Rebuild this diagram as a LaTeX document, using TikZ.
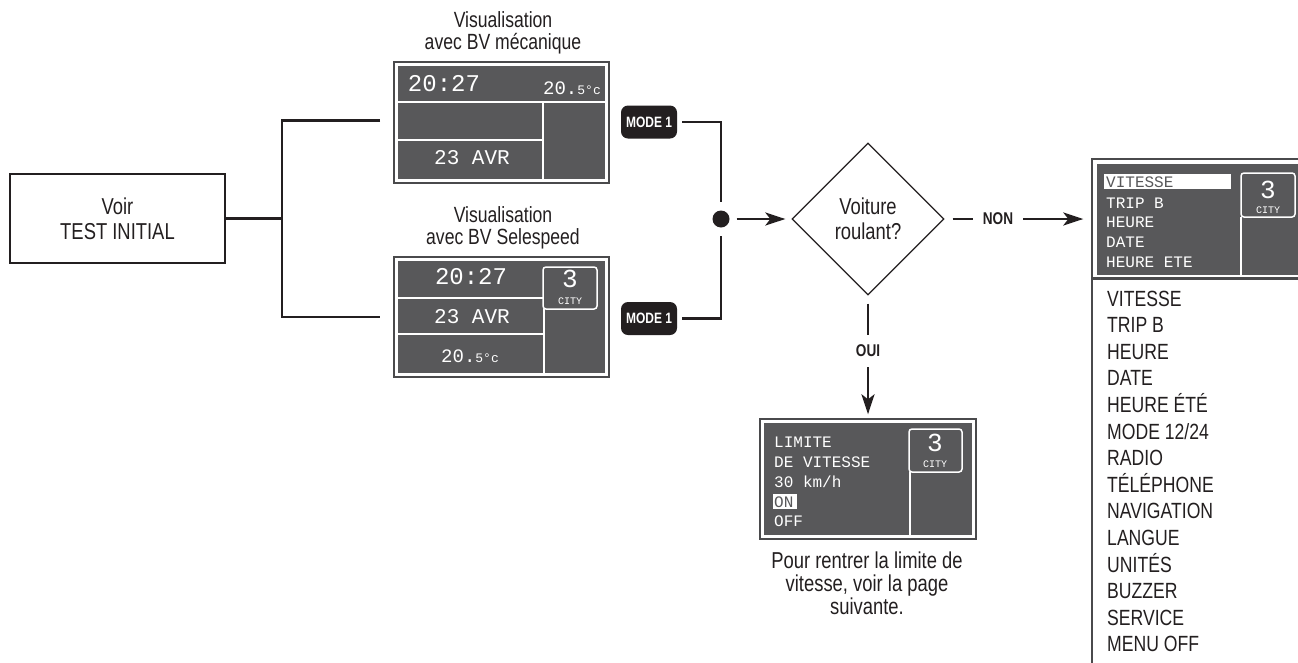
\documentclass[tikz,border=0pt]{standalone}
\usepackage{fontspec}
\setmainfont{Liberation Sans}[FakeStretch=0.8]
\newfontfamily\lcdfont{Liberation Mono}
\usetikzlibrary{arrows.meta,shapes.geometric}
\definecolor{ink}{HTML}{231F20}
\definecolor{scr}{HTML}{58585A}
\definecolor{frm}{HTML}{4A4A4C}
\tikzset{
 conn/.style={draw=ink, line width=2.6pt},
 arr/.style={conn, -{Stealth[length=20pt,width=13pt,inset=5pt]}},
 txt/.style={text=ink, align=center, inner sep=0pt, font=\fontsize{22}{22.5}\selectfont},
 lbl/.style={text=ink, inner sep=0pt, font=\bfseries\fontsize{17}{17}\selectfont},
 badge/.style={fill=ink, rounded corners=7pt, text=white, font=\bfseries\fontsize{15}{15}\selectfont, minimum width=56pt, minimum height=33pt, inner sep=0pt},
 screen/.style={draw=frm, line width=1.4pt, fill=white, inner sep=0pt},
 lcdline/.style={draw=white, line width=1.5pt},
 citybox/.style={draw=white, line width=1.5pt, fill=scr, rounded corners=3pt},
 lcd/.style={text=white, inner sep=0pt, font=\lcdfont\fontsize{#1}{#1}\selectfont},
 lcd/.default=16,
 item/.style={text=ink, inner sep=0pt, anchor=base west, font=\fontsize{22}{22}\selectfont},
}
\begin{document}
\begin{tikzpicture}[x=1pt,y=-1pt]
\clip (0,0) rectangle (1298,662);
\fill[white] (0,0) rectangle (1298,662);

% start box
\node[draw=ink, line width=1.3pt, minimum width=215pt, minimum height=89pt, txt, font=\fontsize{23}{25}\selectfont] (start) at (117.5,218.5) {Voir\\TEST INITIAL};
\coordinate (jn) at (282,218.5);
\coordinate (ja) at (380,120.5);
\coordinate (jb) at (380,317);
\draw[conn] (start.east) -- (jn);
\draw[conn] (ja) -| (jn) |- (jb);

% titles
\node[txt] (tA) at (503,33) {Visualisation\\avec BV mécanique};
\node[txt] (tB) at (503,228) {Visualisation\\avec BV Selespeed};

% screen A
\node[screen, minimum width=215pt, minimum height=121pt] (scrA) at (501.5,122.5) {};
\fill[scr] (398,66) rectangle (605,179);
\draw[lcdline] (398,102) -- (605,102) (543,102) -- (543,179) (398,140) -- (543,140);
\node[lcd=24] (a1) at (444,84) {20:27};
\node[lcd=19, anchor=base east] (a2) at (601,94) {20.{\fontsize{13}{13}\selectfont 5°c}};
\node[lcd=21] (a3) at (472,158) {23 AVR};

% screen B
\node[screen, minimum width=215pt, minimum height=120pt] (scrB) at (501.5,317) {};
\fill[scr] (398,261) rectangle (605,373);
\draw[citybox] (543,267) rectangle (597,309);
\draw[lcdline] (544,309) -- (544,373) (398,298) -- (543,298) (398,334) -- (544,334);
\node[lcd=24] (b1) at (471,277) {20:27};
\node[lcd=21] (b2) at (472,317) {23 AVR};
\node[lcd=19, anchor=base] (b3) at (470,362) {20.{\fontsize{13}{13}\selectfont 5°c}};
\node[lcd=26] (b4) at (570,279) {3};
\node[lcd=10] (b5) at (570,301) {CITY};

% badges and junction
\node[badge] (mA) at (649,122) {MODE 1};
\node[badge] (mB) at (649,318.5) {MODE 1};
\node[circle, fill=ink, minimum size=17pt, inner sep=0pt] (dot) at (721,219) {};
\draw[conn, shorten <=5pt, shorten >=8pt] (mA.east) -| (dot.north);
\draw[conn, shorten <=5pt, shorten >=8pt] (mB.east) -| (dot.south);

% decision
\node[diamond, draw=ink, line width=1.3pt, minimum width=152pt, minimum height=152pt, aspect=1, txt, font=\fontsize{23}{25}\selectfont] (dia) at (868,219) {Voiture\\roulant?};
\draw[arr, shorten <=7pt, shorten >=6pt] (dot.east) -- (dia.west);

% right screen
\node[screen, minimum width=228pt, minimum height=119pt] (scrR) at (1206,218.5) {};
\fill[scr] (1097,164) rectangle (1320,275);
\fill[white] (1104,174) rectangle (1231,189);
\draw[citybox] (1241,173) rectangle (1295,217);
\draw[lcdline] (1241,217) -- (1241,275);
\node[lcd=16, anchor=west, text=scr] (r1) at (1106,182) {VITESSE};
\node[lcd=16, anchor=west] (r2) at (1106,203) {TRIP B};
\node[lcd=16, anchor=west] (r3) at (1106,222.5) {HEURE};
\node[lcd=16, anchor=west] (r4) at (1106,242.5) {DATE};
\node[lcd=16, anchor=west] (r5) at (1106,262.5) {HEURE ETE};
\node[lcd=26] (r6) at (1268,190) {3};
\node[lcd=10] (r7) at (1268,210) {CITY};
\draw[draw=frm, line width=1.4pt] (1092,279) rectangle (1320,700);
\foreach \t [count=\i from 0] in {VITESSE,TRIP B,HEURE,DATE,HEURE ÉTÉ,MODE 12/24,RADIO,TÉLÉPHONE,NAVIGATION,LANGUE,UNITÉS,BUZZER,SERVICE,MENU OFF}
  \node[item] (li\i) at (1107,{306+26.6*\i}) {\t};

% NON branch
\node[lbl] (non) at (998,219) {NON};
\draw[conn, shorten <=8pt, shorten >=10pt] (dia.east) -- (non.west);
\draw[arr, shorten <=10pt, shorten >=8pt] (non.east) -- (non.east -| scrR.west);

% limit screen
\node[screen, minimum width=216pt, minimum height=120pt] (scrL) at (868,479) {};
\fill[scr] (764,423) rectangle (972,535);
\draw[citybox] (909,429) rectangle (962,472);
\draw[lcdline] (910,472) -- (910,535);
\fill[white] (773,494) rectangle (797,509);
\node[lcd=16, anchor=west] (l1) at (774,442) {LIMITE};
\node[lcd=16, anchor=west] (l2) at (774,462) {DE VITESSE};
\node[lcd=16, anchor=west] (l3) at (774,482) {30 km/h};
\node[lcd=16, anchor=west, text=scr] (l4) at (774,502) {ON};
\node[lcd=16, anchor=west] (l5) at (774,521) {OFF};
\node[lcd=26] (l6) at (935,443) {3};
\node[lcd=10] (l7) at (935,464) {CITY};

% OUI branch
\node[lbl] (oui) at (868,351) {OUI};
\draw[conn, shorten <=8pt, shorten >=10pt] (dia.south) -- (oui.north);
\draw[arr, shorten <=10pt, shorten >=4pt] (oui.south) -- (scrL.north);

\node[txt, font=\fontsize{23}{23}\selectfont] (cap) at (867,583) {Pour rentrer la limite de\\vitesse, voir la page\\suivante.};
\end{tikzpicture}
\end{document}
